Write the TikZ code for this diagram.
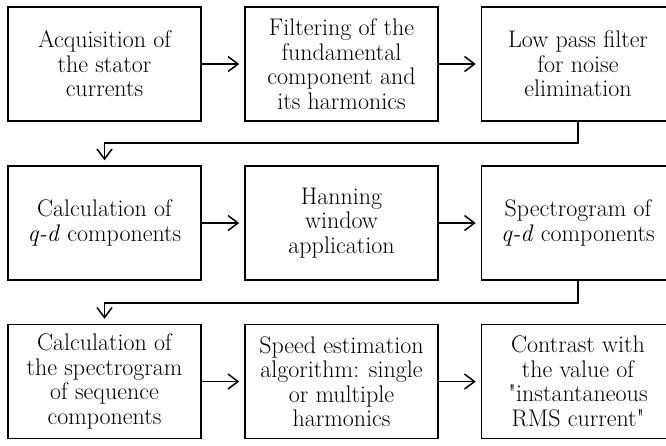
\documentclass[tikz,border=0pt]{standalone}
\usepackage{fontspec}
\setmainfont{Latin Modern Roman}[Ligatures=TeXOff]
\usetikzlibrary{arrows.meta}
\begin{document}
\begin{tikzpicture}[x=1pt,y=1pt,
  stepbox/.style={draw,line width=1.5pt,minimum width=193pt,minimum height=114pt,
    inner sep=0pt,align=center,font=\fontsize{24}{24.5}\selectfont},
  flow/.style={line width=1.5pt,-{Straight Barb[length=10pt,width=15pt,line width=1.5pt]},shorten >=5pt}]
\useasboundingbox (0,0) rectangle (666,-445);
\clip (0,0) rectangle (666,-445);
% first row
\node[stepbox] (acq) at (104.5,-64) {Acquisition of\\the stator\\currents};
\node[stepbox] (filt) at (341.5,-64) {Filtering of the\\fundamental\\component and\\its harmonics};
\node[stepbox] (lpf) at (578,-64) {Low pass filter\\for noise\\elimination};
% second row
\node[stepbox] (qd) at (104.5,-223) {Calculation of\\\textit{q-d} components};
\node[stepbox] (hann) at (341.5,-223) {Hanning\\window\\application};
\node[stepbox] (spec) at (578,-223) {Spectrogram of\\\textit{q-d} components};
% third row
\node[stepbox] (seq) at (104.5,-381.5) {Calculation of\\the spectrogram\\of sequence\\components};
\node[stepbox] (speed) at (341.5,-381.5) {Speed estimation\\algorithm: single\\or multiple\\harmonics};
\node[stepbox] (rms) at (578,-381.5) {Contrast with\\the value of\\"instantaneous\\RMS current"};
\foreach \a/\b in {acq/filt,filt/lpf,qd/hann,hann/spec,seq/speed,speed/rms}
{
\draw[flow] (\a) -- (\b);
}
\coordinate (turnA) at (578,-143);
\coordinate (turnB) at (578,-303);
\draw[flow] (lpf.south) -- (turnA) -| (qd.north);
\draw[flow] (spec.south) -- (turnB) -| (seq.north);
\end{tikzpicture}
\end{document}
